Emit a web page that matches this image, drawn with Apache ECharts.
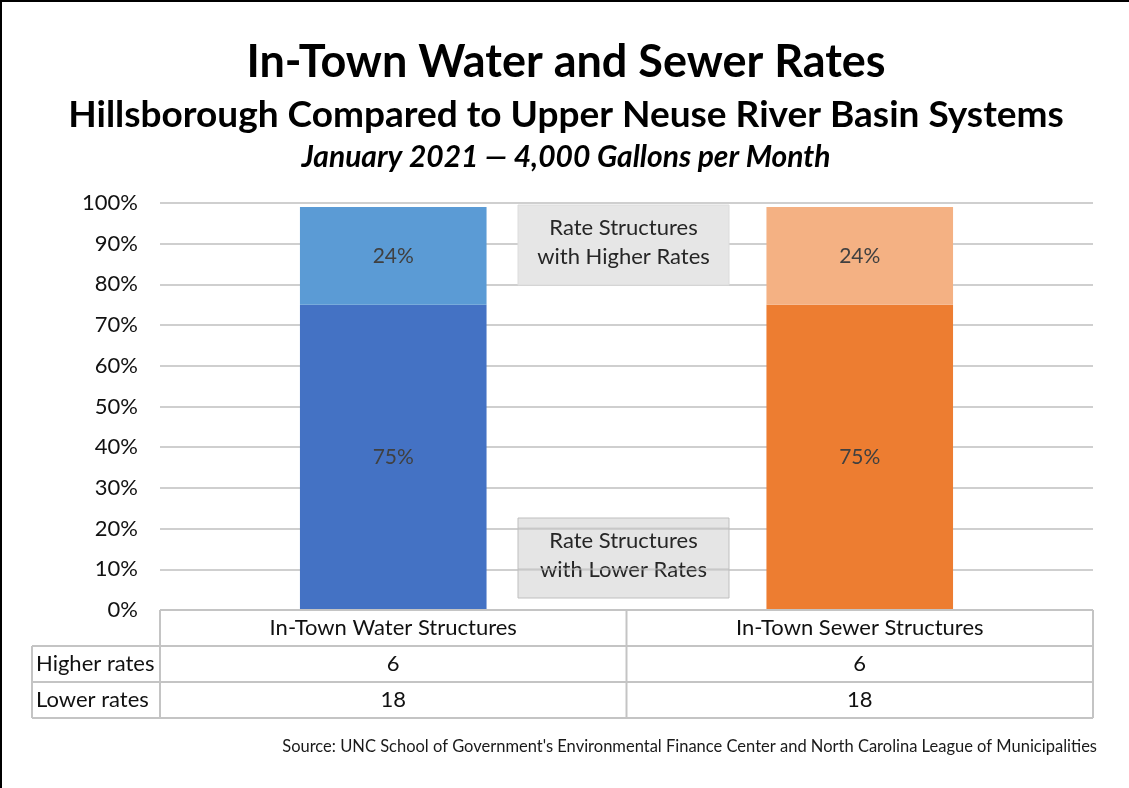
<!DOCTYPE html>
<html>
<head>
<meta charset="utf-8">
<title>In-Town Water and Sewer Rates</title>
<script src="https://cdn.jsdelivr.net/npm/echarts@6/dist/echarts.min.js"></script>
<style>
  html, body { margin: 0; padding: 0; background: #fff; }
  #chart { width: 1129px; height: 788px; }
</style>
</head>
<body>
<div id="chart"></div>
<script>
// Categories and values
const categories = ['In-Town Water Structures', 'In-Town Sewer Structures'];
const lowerPct = [75, 75];      // share of rate structures with lower rates
const higherPct = [24, 24];     // share of rate structures with higher rates
const rowLabels = ['Higher rates', 'Lower rates'];
const higherCounts = [6, 6];
const lowerCounts = [18, 18];

const lowerColors = ['#4472c4', '#ed7d31'];
const higherColors = ['#5b9bd5', '#f4b183'];

const FONT = 'Lato, "Open Sans", sans-serif';
const GRID = { left: 160, right: 1093, top: 203, bottom: 610 };
const ROW_H = 36;
const TABLE_LEFT = 32;
const LINE_COLOR = '#c4c4c4';

const chart = echarts.init(document.getElementById('chart'), null, { renderer: 'canvas' });

const labelStyle = {
  show: true,
  position: 'inside',
  formatter: p => p.value + '%',
  color: '#404040',
  fontFamily: FONT,
  fontSize: 21
};

chart.setOption({
  backgroundColor: '#fff',
  animation: false,
  grid: {
    left: GRID.left, right: 1129 - GRID.right, top: GRID.top, bottom: 788 - GRID.bottom,
    containLabel: false
  },
  xAxis: {
    type: 'category',
    data: categories,
    axisLine: { show: false },
    axisTick: { show: false },
    axisLabel: { show: false }
  },
  yAxis: {
    type: 'value',
    min: 0, max: 100, interval: 10,
    axisLine: { show: false },
    axisTick: { show: false },
    axisLabel: { formatter: '{value}%', fontFamily: FONT, fontSize: 22, color: '#111', margin: 22 },
    splitLine: { lineStyle: { color: '#cfcfcf', width: 2 } }
  },
  series: [
    {
      name: 'Lower rates', type: 'bar', stack: 'rates', barWidth: '40%',
      data: lowerPct.map((v, i) => ({ value: v, itemStyle: { color: lowerColors[i] } })),
      label: labelStyle
    },
    {
      name: 'Higher rates', type: 'bar', stack: 'rates', barWidth: '40%',
      data: higherPct.map((v, i) => ({ value: v, itemStyle: { color: higherColors[i] } })),
      label: labelStyle
    }
  ]
});

// Data table under the plot, titles and the annotation boxes
const colCenters = categories.map(c => chart.convertToPixel({ xAxisIndex: 0 }, c));
const midX = (GRID.left + GRID.right) / 2;
const r1 = GRID.bottom, r2 = r1 + ROW_H, r3 = r2 + ROW_H, r4 = r3 + ROW_H;
const ls = { stroke: LINE_COLOR, lineWidth: 2 };
const line = (x1, y1, x2, y2) => ({ type: 'line', z: 10, shape: { x1, y1, x2, y2 }, style: ls, silent: true });
const cellText = (x, y, text, align) => ({
  type: 'text', z: 11, x, y,
  style: { text, fontFamily: FONT, fontSize: 22, fill: '#111', align: align || 'center', verticalAlign: 'middle' }
});
const titleText = (y, text, size, italic) => ({
  type: 'text', z: 5, x: 566, y,
  style: { text, fontFamily: FONT, fontWeight: 'bold', fontStyle: italic ? 'italic' : 'normal',
    fontSize: size, fill: '#000', align: 'center', verticalAlign: 'middle' }
});

const graphics = [
  // frame lines on the top and left edge
  { type: 'rect', shape: { x: 0, y: 0, width: 1129, height: 2 }, style: { fill: '#000' } },
  { type: 'rect', shape: { x: 0, y: 0, width: 2, height: 788 }, style: { fill: '#000' } },
  titleText(62, 'In-Town Water and Sewer Rates', 45),
  titleText(115, 'Hillsborough Compared to Upper Neuse River Basin Systems', 37),
  titleText(157, 'January 2021 \u2014 4,000 Gallons per Month', 30, true),
  // horizontal table lines
  line(GRID.left, r1, GRID.right, r1),
  line(TABLE_LEFT, r2, GRID.right, r2),
  line(TABLE_LEFT, r3, GRID.right, r3),
  line(TABLE_LEFT, r4, GRID.right, r4),
  // vertical table lines
  line(TABLE_LEFT, r2, TABLE_LEFT, r4),
  line(GRID.left, r1, GRID.left, r4),
  line(midX, r1, midX, r4),
  line(GRID.right, r1, GRID.right, r4)
];

categories.forEach((c, i) => {
  graphics.push(cellText(colCenters[i], (r1 + r2) / 2, c));
  graphics.push(cellText(colCenters[i], (r2 + r3) / 2, String(higherCounts[i])));
  graphics.push(cellText(colCenters[i], (r3 + r4) / 2, String(lowerCounts[i])));
});
graphics.push(cellText(TABLE_LEFT + 4, (r2 + r3) / 2, rowLabels[0], 'left'));
graphics.push(cellText(TABLE_LEFT + 4, (r3 + r4) / 2, rowLabels[1], 'left'));

// annotation boxes between the columns
const boxW = 211, boxH = 80, boxX = 518;
const boxText = (y, text) => ({
  type: 'text', z: 21, x: boxX + boxW / 2, y,
  style: { text, fontFamily: FONT, fontSize: 22, fill: '#262626', align: 'center', verticalAlign: 'middle', lineHeight: 29 }
});
graphics.push({ type: 'rect', z: 20, shape: { x: boxX, y: 205, width: boxW, height: boxH },
  style: { fill: '#e6e6e6', stroke: '#dcdcdc', lineWidth: 1 } });
graphics.push(boxText(242, 'Rate Structures\nwith Higher Rates'));
graphics.push({ type: 'rect', z: 20, shape: { x: boxX, y: 518, width: boxW, height: boxH },
  style: { fill: 'rgba(218,218,218,0.7)', stroke: '#bfbfbf', lineWidth: 1 } });
graphics.push(boxText(555, 'Rate Structures\nwith Lower Rates'));
// gridlines show through the lower box
[10, 20].forEach(v => {
  const y = chart.convertToPixel({ yAxisIndex: 0 }, v);
  graphics.push({ type: 'line', z: 22, shape: { x1: boxX, y1: y, x2: boxX + boxW, y2: y },
    style: { stroke: 'rgba(190,190,190,0.6)', lineWidth: 2 }, silent: true });
});

// source note
graphics.push({
  type: 'text', z: 5, x: 1097, y: 747,
  style: { text: "Source: UNC School of Government's Environmental Finance Center and North Carolina League of Municipalities",
    fontFamily: FONT, fontSize: 16.5, fill: '#1a1a1a', align: 'right', verticalAlign: 'middle' }
});

chart.setOption({ graphic: graphics });
</script>
</body>
</html>
